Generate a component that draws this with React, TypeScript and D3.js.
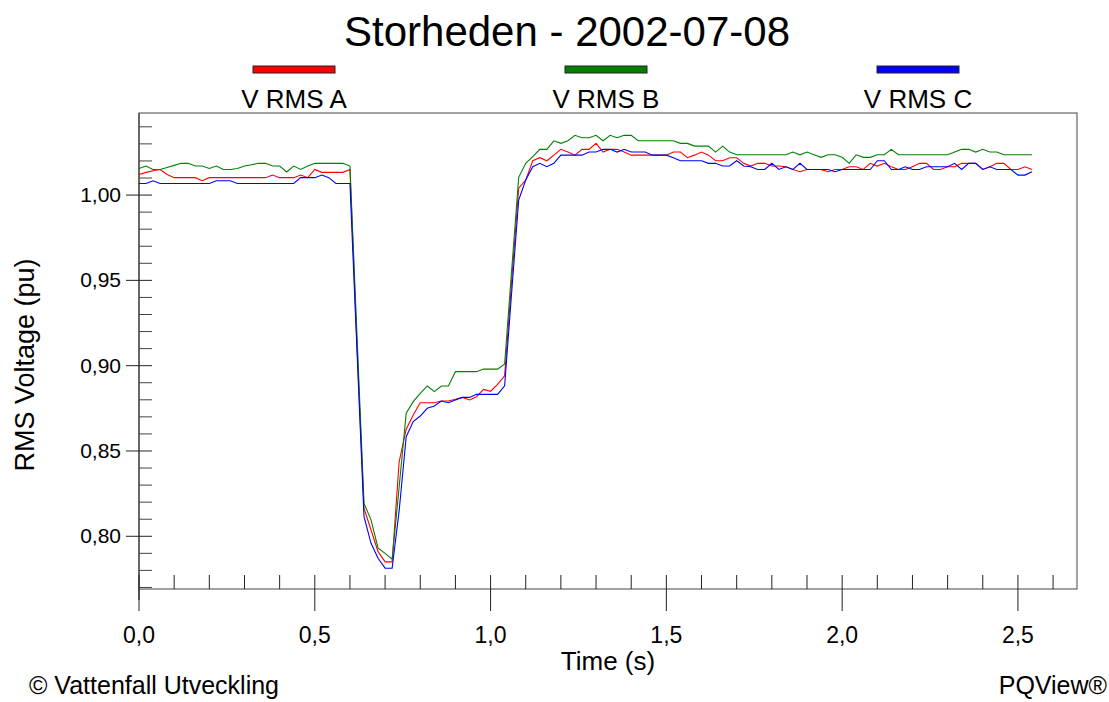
import React from "react";
import * as d3 from "d3";

// RMS voltage per phase, one value per cycle (20 ms)
const SAMPLE_STEP = 0.02;

const vrmsA = [
  1.0121, 1.0133, 1.0143, 1.015, 1.0121, 1.0102, 1.0102, 1.0102, 1.0102, 1.0084, 1.0102,
  1.0102, 1.0102, 1.0102, 1.0102, 1.0102, 1.0102, 1.0102, 1.0102, 1.0117, 1.0102,
  1.0102, 1.0102, 1.0117, 1.0102, 1.015, 1.0133, 1.0133, 1.0133, 1.0133, 1.015,
  0.912, 0.8164, 0.8037, 0.791, 0.785, 0.785, 0.8437, 0.8628,
  0.8711, 0.8783, 0.8783, 0.8783, 0.8793, 0.8793, 0.8803, 0.8814, 0.8799, 0.8818, 0.8861, 0.885, 0.889, 0.894,
  0.95, 1.004,
  1.0088, 1.0201, 1.0219, 1.0201, 1.0234, 1.0268, 1.0252, 1.0234, 1.0268, 1.0268,
  1.0303, 1.0252, 1.0268, 1.0268, 1.0252, 1.0234, 1.0234, 1.0234, 1.0234, 1.0234, 1.0234,
  1.0252, 1.0252, 1.0219, 1.0234, 1.0252, 1.0234, 1.0201, 1.0201, 1.0219, 1.0219, 1.0186,
  1.017, 1.0186, 1.0186, 1.017, 1.017, 1.0166, 1.015, 1.0137, 1.015, 1.015,
  1.015, 1.0137, 1.015, 1.015, 1.0166, 1.0166, 1.015, 1.0186, 1.017, 1.0186,
  1.0166, 1.015, 1.015, 1.0166, 1.0186, 1.0186, 1.015, 1.015, 1.0166, 1.0166,
  1.0186, 1.0186, 1.0186, 1.015, 1.0166, 1.0186, 1.0186, 1.015, 1.015, 1.0166, 1.015,
];

const vrmsB = [
  1.0156, 1.017, 1.015, 1.015, 1.0162, 1.0174, 1.0186, 1.0186, 1.017, 1.017, 1.0156,
  1.017, 1.015, 1.015, 1.0156, 1.017, 1.0178, 1.0186, 1.0186, 1.017, 1.017,
  1.0135, 1.017, 1.015, 1.017, 1.0186, 1.0186, 1.0186, 1.0186, 1.0186, 1.017,
  0.918, 0.8193, 0.8096, 0.793, 0.79, 0.7866, 0.829, 0.8721,
  0.8789, 0.8838, 0.8881, 0.8848, 0.8881, 0.8881, 0.8965, 0.8965, 0.8965, 0.8965, 0.898, 0.898, 0.898, 0.901,
  0.956, 1.0104,
  1.0186, 1.0225, 1.0268, 1.0268, 1.0318, 1.0303, 1.0318, 1.035, 1.0336, 1.0336,
  1.035, 1.0318, 1.035, 1.0336, 1.035, 1.035, 1.0318, 1.0318, 1.0318, 1.0318, 1.0318,
  1.0318, 1.0303, 1.0303, 1.0287, 1.0287, 1.0287, 1.0252, 1.0287, 1.0252, 1.0236, 1.0236,
  1.0236, 1.0236, 1.0236, 1.0236, 1.0236, 1.0236, 1.0252, 1.0236, 1.0252, 1.0236,
  1.0221, 1.0236, 1.0236, 1.0221, 1.0186, 1.0236, 1.0221, 1.0221, 1.0236, 1.0236,
  1.0268, 1.0236, 1.0236, 1.0236, 1.0236, 1.0236, 1.0236, 1.0236, 1.0236, 1.0252,
  1.0268, 1.0268, 1.0252, 1.0268, 1.0252, 1.0252, 1.0236, 1.0236, 1.0236, 1.0236, 1.0236,
];

const vrmsC = [
  1.0068, 1.0068, 1.0084, 1.0068, 1.0068, 1.0068, 1.0068, 1.0068, 1.0068, 1.0068, 1.0068,
  1.0084, 1.0084, 1.0084, 1.0068, 1.0068, 1.0068, 1.0068, 1.0068, 1.0068, 1.0068,
  1.0068, 1.0068, 1.0102, 1.0102, 1.0102, 1.0117, 1.0102, 1.0068, 1.0068, 1.0068,
  0.909, 0.8115, 0.7959, 0.7871, 0.7813, 0.7813, 0.815, 0.8584,
  0.8672, 0.8705, 0.875, 0.8764, 0.8793, 0.8783, 0.8799, 0.8814, 0.8814, 0.8832, 0.8832, 0.8832, 0.8832, 0.8882,
  0.943, 0.9971,
  1.0088, 1.0166, 1.0186, 1.0166, 1.0186, 1.0234, 1.0234, 1.0234, 1.0234, 1.0252,
  1.0252, 1.0268, 1.0268, 1.0252, 1.0268, 1.0252, 1.0252, 1.0252, 1.0234, 1.0234, 1.0234,
  1.0219, 1.0201, 1.0201, 1.0201, 1.0201, 1.0186, 1.0186, 1.017, 1.017, 1.0201, 1.017,
  1.0166, 1.015, 1.015, 1.0186, 1.015, 1.0166, 1.015, 1.0186, 1.015, 1.015,
  1.015, 1.015, 1.0137, 1.015, 1.015, 1.015, 1.015, 1.015, 1.0201, 1.0201,
  1.015, 1.015, 1.0166, 1.015, 1.015, 1.0166, 1.0166, 1.0166, 1.0166, 1.0186,
  1.015, 1.0186, 1.0186, 1.015, 1.0166, 1.015, 1.015, 1.015, 1.0117, 1.0117, 1.0137,
];

const seriesNames = ["V RMS A", "V RMS B", "V RMS C"];
const seriesColors = ["#ff0000", "#008000", "#0000ff"];

const yMajorTicks = [0.8, 0.85, 0.9, 0.95, 1.0];
const xMajorTicks = [0, 0.5, 1.0, 1.5, 2.0, 2.5];

const W = 1109;
const H = 702;
const FONT = "'Liberation Sans', Arial, sans-serif";

const fmt = (v: number, d: number) => v.toFixed(d).replace(".", ",");

export default function App() {
  const left = 139;
  const right = 1077;
  const top = 113;
  const bottom = 589;

  const x = d3.scaleLinear().domain([0, 2.668]).range([left, right]);
  const y = d3.scaleLinear().domain([0.7691, 1.0481]).range([bottom, top]);

  const xMinor = d3.range(1, 27).map((i) => i * 0.1).filter((t) => Math.abs(t * 2 - Math.round(t * 2)) > 1e-6);
  const yMinor = d3.range(77, 105).map((i) => i / 100).filter((v) => Math.abs(v * 20 - Math.round(v * 20)) > 1e-6);

  const line = d3
    .line<number>()
    .x((_, i) => x(i * SAMPLE_STEP))
    .y((v) => y(v));

  const series = [vrmsA, vrmsB, vrmsC];
  const legendCenters = [294, 606, 918];

  return (
    <svg
      width={W}
      height={H}
      style={{ position: "absolute", left: 0, top: 0, background: "#fff" }}
      fontFamily={FONT}
    >
      <rect x={0} y={0} width={W} height={H} fill="#fff" />
      <text x={567} y={46} fontSize={42} textAnchor="middle" fill="#000">
        Storheden - 2002-07-08
      </text>

      {seriesNames.map((name, i) => (
        <g key={name}>
          <rect
            x={legendCenters[i] - 41}
            y={66}
            width={82}
            height={7}
            fill={seriesColors[i]}
            stroke="#222"
            strokeWidth={1}
          />
          <text x={legendCenters[i]} y={108} fontSize={26} textAnchor="middle" fill="#000">
            {name}
          </text>
        </g>
      ))}

      {/* plot frame */}
      <rect x={left} y={top} width={right - left} height={bottom - top} fill="none" stroke="#444" strokeWidth={1} />
      <line x1={left} y1={top} x2={left} y2={600} stroke="#555" strokeWidth={1.5} />

      {/* y ticks */}
      {yMinor.map((v) => (
        <line key={"ym" + v} x1={left} x2={left + 13} y1={y(v)} y2={y(v)} stroke="#444" />
      ))}
      {yMajorTicks.map((v) => (
        <g key={"yM" + v}>
          <line x1={left - 13} x2={left + 13} y1={y(v)} y2={y(v)} stroke="#222" />
          <text x={121} y={y(v) + 7} fontSize={21} textAnchor="end" fill="#000">
            {fmt(v, 2)}
          </text>
        </g>
      ))}

      {/* x ticks */}
      {xMinor.map((t) => (
        <line key={"xm" + t} x1={x(t)} x2={x(t)} y1={bottom - 14} y2={bottom} stroke="#222" />
      ))}
      {xMajorTicks.map((t) => (
        <g key={"xM" + t}>
          <line x1={x(t)} x2={x(t)} y1={bottom - 14} y2={611} stroke="#222" />
          <text x={x(t)} y={643} fontSize={23} textAnchor="middle" fill="#000">
            {fmt(t, 1)}
          </text>
        </g>
      ))}

      {/* phase traces */}
      {series.map((s, i) => (
        <path key={i} d={line(s) || ""} fill="none" stroke={seriesColors[i]} strokeWidth={1.1} />
      ))}

      <text x={608} y={670} fontSize={26} textAnchor="middle" fill="#000">
        Time (s)
      </text>
      <text
        transform={`translate(34,365) rotate(-90)`}
        fontSize={27}
        textAnchor="middle"
        fill="#000"
      >
        RMS Voltage (pu)
      </text>

      <text x={29} y={694} fontSize={25} fill="#000">
        © Vattenfall Utveckling
      </text>
      <text x={1107} y={694} fontSize={25} textAnchor="end" fill="#000">
        PQView®
      </text>
    </svg>
  );
}
